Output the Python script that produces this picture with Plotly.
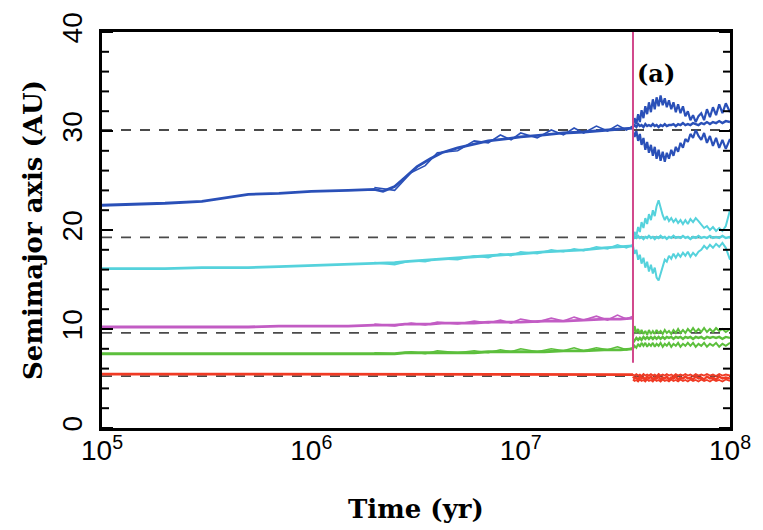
import math
import plotly.graph_objects as go

# ---------------- data ----------------
t_pre = [1e5, 1.5e5, 2e5, 3e5, 4e5, 5e5, 7e5, 1e6, 1.5e6, 2e6, 2.2e6, 2.5e6, 2.8e6,
         3.2e6, 3.7e6, 4.2e6, 5e6, 6e6, 7e6, 8.5e6, 1e7, 1.3e7, 1.6e7, 2e7, 2.5e7, 3e7, 3.44e7]

blue_pre = [22.5, 22.6, 22.7, 22.9, 23.3, 23.6, 23.7, 23.9, 24.0, 24.1, 23.9, 24.4, 25.3,
            26.4, 27.2, 27.8, 28.3, 28.7, 29.0, 29.2, 29.4, 29.6, 29.8, 29.9, 30.1, 30.2, 30.3]
cyan_pre = [16.1, 16.1, 16.1, 16.2, 16.2, 16.2, 16.3, 16.4, 16.5, 16.6, 16.6, 16.7, 16.8,
            16.9, 17.0, 17.1, 17.2, 17.3, 17.4, 17.5, 17.6, 17.8, 17.9, 18.0, 18.2, 18.3, 18.4]
magenta_pre = [10.2, 10.2, 10.2, 10.2, 10.2, 10.2, 10.3, 10.3, 10.3, 10.4, 10.4, 10.4, 10.5,
               10.5, 10.5, 10.6, 10.6, 10.6, 10.7, 10.7, 10.7, 10.8, 10.8, 10.9, 11.0, 11.0, 11.1]
green_pre = [7.5, 7.5, 7.5, 7.5, 7.5, 7.5, 7.5, 7.5, 7.5, 7.5, 7.5, 7.5, 7.6,
             7.6, 7.6, 7.6, 7.6, 7.6, 7.7, 7.7, 7.7, 7.7, 7.8, 7.8, 7.9, 7.9, 8.0]
red_pre = [5.45, 5.45, 5.45, 5.45, 5.45, 5.45, 5.45, 5.45, 5.45, 5.45, 5.45, 5.45, 5.45,
           5.45, 5.45, 5.45, 5.45, 5.45, 5.45, 5.45, 5.45, 5.45, 5.45, 5.45, 5.4, 5.4, 5.4]

t_late = [2.0e6, 2.5e6, 3.0e6, 3.5e6, 4.0e6, 5.0e6, 6.0e6, 7.0e6, 8.0e6, 9.0e6, 1.0e7,
          1.2e7, 1.4e7, 1.6e7, 1.8e7, 2.0e7, 2.3e7, 2.6e7, 2.9e7, 3.2e7, 3.44e7]
blue_wig = [24.3, 24.0, 25.8, 26.5, 27.8, 28.0, 29.0, 28.8, 29.6, 29.1, 29.8,
            29.3, 30.1, 29.6, 30.3, 29.8, 30.5, 30.0, 30.6, 30.1, 30.5]
cyan_wig = [16.7, 16.5, 16.9, 16.8, 17.1, 17.0, 17.4, 17.2, 17.6, 17.4, 17.8,
            17.6, 18.0, 17.8, 18.1, 17.9, 18.3, 18.1, 18.5, 18.2, 18.5]
magenta_wig = [10.5, 10.3, 10.6, 10.4, 10.7, 10.5, 10.8, 10.6, 10.9, 10.6, 11.0,
               10.7, 11.1, 10.8, 11.2, 10.9, 11.3, 10.9, 11.4, 11.0, 11.3]
green_wig = [7.6, 7.5, 7.7, 7.5, 7.8, 7.6, 7.8, 7.6, 7.9, 7.7, 8.0,
             7.7, 8.0, 7.8, 8.1, 7.8, 8.1, 7.9, 8.2, 7.9, 8.1]

t_post = [3.44e7, 3.50e7, 3.57e7, 3.64e7, 3.71e7, 3.78e7, 3.86e7, 3.94e7, 4.02e7, 4.10e7,
          4.19e7, 4.28e7, 4.37e7, 4.46e7, 4.56e7, 4.66e7, 4.77e7, 4.88e7, 4.99e7, 5.11e7,
          5.24e7, 5.37e7, 5.51e7, 5.65e7, 5.80e7, 5.96e7, 6.12e7, 6.29e7, 6.47e7, 6.66e7,
          6.86e7, 7.07e7, 7.29e7, 7.52e7, 7.76e7, 8.02e7, 8.29e7, 8.58e7, 8.88e7, 9.20e7,
          9.55e7, 1.0e8]

blue_a = [30.4, 30.6, 30.4, 30.7, 30.5, 30.6, 30.4, 30.7, 30.5, 30.6, 30.5, 30.7, 30.5, 30.6,
          30.4, 30.6, 30.5, 30.7, 30.5, 30.6, 30.6, 30.7, 30.5, 30.7, 30.6, 30.8, 30.6, 30.7,
          30.6, 30.8, 30.7, 30.6, 30.8, 30.7, 30.9, 30.7, 30.9, 30.8, 31.0, 30.8, 31.0, 30.9]
blue_Q = [30.6, 31.3, 30.7, 31.7, 30.9, 32.1, 31.3, 32.5, 31.7, 32.9, 31.9, 33.2, 32.2, 33.4,
          32.5, 33.6, 32.6, 33.3, 32.4, 33.1, 32.2, 32.9, 31.9, 32.7, 31.8, 32.5, 31.5, 32.0,
          31.1, 31.6, 30.9, 31.5, 31.8, 31.1, 32.2, 31.4, 32.4, 31.6, 32.7, 31.8, 32.8, 31.9]
blue_q = [30.0, 29.4, 30.0, 29.0, 29.7, 28.6, 29.3, 28.1, 28.9, 27.8, 28.6, 27.5, 28.4, 27.2,
          28.1, 27.0, 27.9, 26.9, 27.8, 27.2, 28.1, 27.5, 28.4, 27.9, 28.8, 28.3, 29.2, 28.9,
          29.7, 29.3, 30.1, 29.5, 29.1, 29.8, 28.8, 29.5, 28.5, 29.3, 28.3, 29.1, 28.2, 29.2]

cyan_a = [19.1, 19.3, 19.2, 19.4, 19.2, 19.3, 19.1, 19.3, 19.2, 19.4, 19.2, 19.3, 19.1, 19.3,
          19.2, 19.4, 19.2, 19.3, 19.1, 19.3, 19.2, 19.4, 19.2, 19.3, 19.2, 19.4, 19.2, 19.3,
          19.1, 19.3, 19.2, 19.4, 19.2, 19.3, 19.2, 19.4, 19.2, 19.3, 19.2, 19.4, 19.2, 19.3]
cyan_Q = [19.0, 19.8, 19.4, 20.3, 19.8, 20.8, 20.2, 21.2, 20.6, 21.6, 21.0, 22.0, 21.4, 22.4,
          23.0, 22.2, 21.5, 21.0, 21.4, 20.9, 21.2, 20.8, 21.1, 20.7, 21.0, 20.6, 21.0, 20.6,
          21.1, 20.8, 21.2, 20.9, 20.6, 20.2, 20.4, 20.0, 20.3, 19.9, 20.2, 19.9, 20.4, 22.0]
cyan_q = [18.4, 17.6, 18.0, 17.0, 17.5, 16.6, 17.2, 16.2, 16.8, 15.8, 16.5, 15.6, 16.2, 15.2,
          14.9, 15.6, 16.4, 17.0, 16.8, 17.4, 17.1, 17.6, 17.2, 17.6, 17.3, 17.7, 17.4, 17.8,
          17.3, 17.7, 17.4, 17.8, 18.0, 18.4, 18.1, 18.5, 18.2, 18.6, 18.3, 18.7, 18.2, 17.0]

green_a = [8.6, 8.9, 9.1, 8.9, 9.1, 8.9, 9.2, 9.0, 9.2, 9.0, 9.2, 9.0, 9.2, 9.0,
           9.2, 9.0, 9.2, 9.0, 9.2, 9.1, 9.2, 9.0, 9.2, 9.1, 9.2, 9.0, 9.2, 9.1,
           9.2, 9.0, 9.2, 9.1, 9.2, 9.0, 9.2, 9.1, 9.2, 9.1, 9.2, 9.0, 9.2, 9.1]
green_Q = [9.2, 10.3, 9.6, 10.0, 9.5, 9.9, 9.5, 9.8, 9.4, 9.9, 9.5, 9.8, 9.5, 9.9,
           9.6, 9.8, 9.5, 9.9, 9.6, 9.8, 9.5, 9.9, 9.6, 10.0, 9.6, 9.9, 9.6, 10.0,
           9.7, 10.1, 9.7, 10.0, 9.7, 10.1, 9.7, 10.0, 9.7, 10.1, 9.8, 10.0, 9.7, 10.0]
green_q = [8.0, 8.3, 8.1, 8.5, 8.2, 8.6, 8.3, 8.6, 8.2, 8.5, 8.3, 8.6, 8.2, 8.5,
           8.3, 8.6, 8.2, 8.5, 8.3, 8.6, 8.2, 8.5, 8.3, 8.6, 8.2, 8.5, 8.3, 8.6,
           8.3, 8.6, 8.2, 8.5, 8.3, 8.6, 8.2, 8.5, 8.3, 8.6, 8.2, 8.5, 8.3, 8.6]

red_a = [5.2, 5.0, 5.1, 4.9, 5.2, 5.0, 5.1, 4.9, 5.2, 5.0, 5.2, 4.9, 5.1, 5.0,
         5.2, 4.9, 5.1, 5.0, 5.2, 4.9, 5.1, 5.0, 5.2, 4.9, 5.1, 5.0, 5.2, 5.0,
         5.1, 4.9, 5.2, 5.0, 5.1, 4.9, 5.2, 5.0, 5.1, 4.9, 5.2, 5.0, 5.1, 5.0]
red_Q = [5.4, 5.3, 5.45, 5.3, 5.4, 5.25, 5.45, 5.3, 5.4, 5.3, 5.45, 5.3, 5.4, 5.25,
         5.45, 5.3, 5.4, 5.3, 5.45, 5.3, 5.4, 5.25, 5.45, 5.3, 5.4, 5.3, 5.45, 5.3,
         5.4, 5.25, 5.45, 5.3, 5.4, 5.3, 5.45, 5.3, 5.4, 5.25, 5.45, 5.3, 5.4, 5.3]
red_q = [4.9, 4.75, 4.85, 4.7, 4.9, 4.75, 4.85, 4.7, 4.9, 4.75, 4.85, 4.7, 4.9, 4.75,
         4.85, 4.7, 4.9, 4.75, 4.85, 4.7, 4.9, 4.75, 4.85, 4.7, 4.9, 4.75, 4.85, 4.7,
         4.9, 4.75, 4.85, 4.7, 4.9, 4.75, 4.85, 4.7, 4.9, 4.75, 4.85, 4.7, 4.9, 4.75]

t_eject = 3.44e7
magenta_eject = [6.6, 45.0]

current_a = [5.25, 9.6, 19.25, 30.1]
t_span = [1e5, 1e8]

x_tickvals = [1e5, 1e6, 1e7, 1e8]
x_ticktext = ["10<sup>5</sup>", "10<sup>6</sup>", "10<sup>7</sup>", "10<sup>8</sup>"]
x_minor = [m * d for d in (1e5, 1e6, 1e7) for m in range(2, 10)]
y_tickvals = [0, 10, 20, 30, 40]
y_minor = [2, 4, 6, 8, 12, 14, 16, 18, 22, 24, 26, 28, 32, 34, 36, 38]

BLUE = "#2a50b8"
CYAN = "#55d2dc"
MAGENTA = "#c25cc4"
GREEN = "#5cbf3c"
RED = "#f03a24"
EJECT = "#d2488c"

# ---------------- figure ----------------
fig = go.Figure()

for a in current_a:
    fig.add_trace(go.Scatter(x=t_span, y=[a, a], mode="lines",
                             line=dict(color="#4a4a4a", width=1.8, dash="10px,9px")))

for t, ys, c, w in [(t_late, blue_wig, BLUE, 1.6), (t_late, cyan_wig, CYAN, 1.6),
                    (t_late, magenta_wig, MAGENTA, 1.6), (t_late, green_wig, GREEN, 1.6),
                    (t_post, blue_Q, BLUE, 2.2), (t_post, blue_q, BLUE, 2.2),
                    (t_post, cyan_Q, CYAN, 2.0), (t_post, cyan_q, CYAN, 2.0),
                    (t_post, green_Q, GREEN, 2.0), (t_post, green_q, GREEN, 2.0),
                    (t_post, red_Q, RED, 1.8), (t_post, red_q, RED, 1.8)]:
    fig.add_trace(go.Scatter(x=t, y=ys, mode="lines", line=dict(color=c, width=w)))

main = 2.8
for ys, c in [(blue_pre, BLUE), (cyan_pre, CYAN), (magenta_pre, MAGENTA),
              (green_pre, GREEN), (red_pre, RED)]:
    fig.add_trace(go.Scatter(x=t_pre, y=ys, mode="lines", line=dict(color=c, width=main)))

for ys, c in [(blue_a, BLUE), (cyan_a, CYAN), (green_a, GREEN), (red_a, RED)]:
    fig.add_trace(go.Scatter(x=t_post, y=ys, mode="lines", line=dict(color=c, width=2.4)))

fig.add_trace(go.Scatter(x=[t_eject, t_eject], y=magenta_eject, mode="lines",
                         line=dict(color=EJECT, width=2)))

# inside tick marks on all four sides, placed at the tick values (lengths in px);
# shapes on a log axis take log10 of the value
tick_line = dict(color="black", width=2)
shapes = []
for vals, length in ((x_tickvals, 14), (x_minor, 8)):
    for v in vals:
        lv = math.log10(v)
        for anchor, sign in ((0, 1), (1, -1)):
            shapes.append(dict(type="line", xref="x", yref="paper", ysizemode="pixel",
                               yanchor=anchor, x0=lv, x1=lv, y0=0, y1=sign * length,
                               line=tick_line, layer="above"))
for vals, length in ((y_tickvals, 11), (y_minor, 7)):
    for v in vals:
        for anchor, sign in ((0, 1), (1, -1)):
            shapes.append(dict(type="line", yref="y", xref="paper", xsizemode="pixel",
                               xanchor=anchor, y0=v, y1=v, x0=0, x1=sign * length,
                               line=tick_line, layer="above"))

tickfont = dict(family="Liberation Sans, Arial, sans-serif", size=28, color="black")
titlefont = dict(family="DejaVu Serif, serif", size=26, color="black")

fig.update_layout(
    width=763, height=530,
    margin=dict(l=102, r=26, t=28, b=102),
    paper_bgcolor="white", plot_bgcolor="white",
    showlegend=False,
    shapes=shapes,
    xaxis=dict(type="log", range=[5, 8], tickmode="array", tickvals=x_tickvals,
               ticktext=x_ticktext, ticks="",
               showline=True, linewidth=2.5, linecolor="black", mirror=True,
               showgrid=False, zeroline=False, tickfont=tickfont, ticklabelstandoff=-4),
    yaxis=dict(range=[0, 40], tickmode="array", tickvals=y_tickvals, ticks="",
               showline=True, linewidth=2.5, linecolor="black", mirror=True,
               showgrid=False, zeroline=False, tickfont=tickfont, tickangle=-90,
               ticklabelstandoff=6),
    annotations=[
        dict(text="<b>Time (yr)</b>", xref="paper", yref="paper", x=0.5, y=-0.205,
             xanchor="center", yanchor="middle", showarrow=False, font=titlefont),
        dict(text="<b>Semimajor axis (AU)</b>", xref="paper", yref="paper", x=-0.110, y=0.5,
             xanchor="center", yanchor="middle", showarrow=False, textangle=-90,
             font=titlefont),
        dict(text="<b>(a)</b>", xref="paper", yref="paper", x=0.882, y=0.895,
             xanchor="center", yanchor="middle", showarrow=False,
             font=dict(family="DejaVu Serif, serif", size=24, color="black")),
    ],
)

fig.write_html("out.html")
